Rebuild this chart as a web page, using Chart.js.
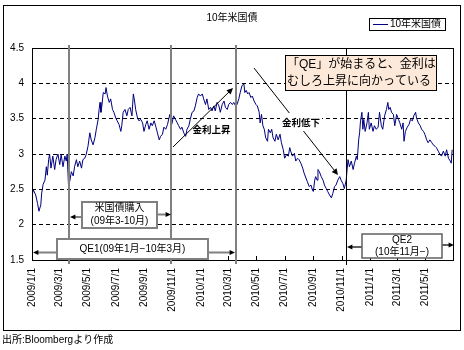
<!DOCTYPE html>
<html>
<head>
<meta charset="utf-8">
<script src="https://cdn.jsdelivr.net/npm/chart.js@4.4.0/dist/chart.umd.min.js"></script>
<style>
html, body { margin: 0; padding: 0; background: #fff; }
#wrap { width: 464px; height: 350px; }
</style>
</head>
<body>
<div id="wrap"><canvas id="chart" width="464" height="350"></canvas></div>
<script>
// observation dates as days counted from 2009/1/1
const days = [
  0, 3, 8, 12, 15, 19, 21, 24, 28, 31, 33, 36, 38, 41, 45, 49, 52, 56, 60, 63, 67, 71, 74, 76, 79,
  82, 85, 89, 92, 96, 99, 103, 107, 110, 114, 117, 121, 125, 128, 132, 136, 139, 143, 145, 147, 149,
  151, 154, 158, 160, 163, 167, 170, 174, 177, 181, 184, 188, 192, 194, 197, 201, 205, 208, 212, 216,
  219, 221, 224, 228, 231, 235, 239, 242, 246, 249, 253, 257, 260, 264, 268, 271, 275, 278, 282, 285,
  289, 293, 296, 298, 302, 306, 310, 314, 317, 321, 324, 328, 332, 335, 339, 342, 346, 350, 353, 357,
  360, 364, 368, 371, 375, 378, 382, 386, 389, 393, 396, 400, 404, 407, 411, 415, 418, 422, 425, 429,
  433, 436, 440, 443, 447, 450, 454, 458, 460, 463, 466, 469, 473, 476, 480, 484, 487, 491, 493, 496,
  499, 502, 505, 509, 511, 515, 518, 521, 525, 528, 532, 536, 539, 543, 546, 550, 554, 557, 559, 563,
  567, 570, 574, 577, 581, 585, 588, 592, 595, 599, 603, 606, 608, 611, 613, 616, 618, 621, 625, 629,
  632, 636, 639, 643, 647, 650, 654, 657, 661, 665, 668, 672, 675, 679, 681, 683, 686, 690, 694, 697,
  701, 703, 706, 708, 710, 713, 715, 717, 720, 724, 727, 729, 733, 737, 740, 744, 748, 751, 755, 758,
  762, 766, 769, 771, 774, 777, 781, 784, 788, 792, 795, 799, 802, 804, 807, 811, 815, 818, 822, 825,
  829, 831, 835, 839, 842, 846, 849, 853, 856, 860, 864, 867, 871, 874, 878, 882, 885, 889, 893, 896,
  900, 904, 906, 908
];
// 10-year US Treasury yield (%)
const yields = [
  2.42, 2.49, 2.42, 2.30, 2.19, 2.28, 2.45, 2.57, 2.63, 2.82, 2.70, 2.92, 3.00, 2.80, 2.97, 2.78, 2.92, 3.00, 2.85, 2.99, 2.82, 2.97, 2.90, 3.00, 2.54,
  2.63, 2.75, 2.69, 2.82, 2.92, 2.82, 2.90, 2.80, 2.92, 2.94, 2.99, 3.11, 3.30, 3.20, 3.13, 3.23, 3.35, 3.49, 3.63, 3.73, 3.59,
  3.68, 3.87, 3.85, 3.94, 3.82, 3.73, 3.78, 3.63, 3.59, 3.51, 3.47, 3.42, 3.32, 3.40, 3.59, 3.63, 3.54, 3.63, 3.66, 3.54,
  3.85, 3.78, 3.63, 3.51, 3.47, 3.49, 3.44, 3.32, 3.42, 3.47, 3.35, 3.44, 3.40, 3.47, 3.38, 3.30, 3.20, 3.25, 3.28, 3.38,
  3.35, 3.42, 3.51, 3.56, 3.42, 3.54, 3.49, 3.44, 3.40, 3.35, 3.38, 3.30, 3.25, 3.35, 3.40, 3.49, 3.59, 3.61, 3.68, 3.80,
  3.85, 3.82, 3.85, 3.78, 3.70, 3.78, 3.63, 3.66, 3.61, 3.68, 3.61, 3.73, 3.68, 3.59, 3.70, 3.75, 3.66, 3.63, 3.70, 3.73,
  3.70, 3.73, 3.68, 3.70, 3.78, 3.87, 3.97, 3.99, 3.87, 3.90, 3.85, 3.87, 3.80, 3.82, 3.75, 3.70, 3.68, 3.59, 3.44, 3.56,
  3.40, 3.35, 3.23, 3.18, 3.35, 3.30, 3.35, 3.23, 3.18, 3.28, 3.20, 3.28, 3.16, 3.06, 2.94, 2.99, 2.97, 3.09, 3.04, 2.97,
  3.01, 2.90, 2.94, 2.92, 2.87, 2.80, 2.73, 2.66, 2.61, 2.54, 2.56, 2.49, 2.47, 2.63, 2.68, 2.63, 2.78, 2.75, 2.68, 2.63,
  2.56, 2.51, 2.47, 2.42, 2.38, 2.44, 2.54, 2.56, 2.63, 2.68, 2.63, 2.58, 2.51, 2.63, 2.78, 2.92, 2.82, 2.90, 2.78, 2.87,
  2.97, 2.92, 3.20, 3.30, 3.47, 3.59, 3.35, 3.49, 3.32, 3.44, 3.59, 3.35, 3.44, 3.32, 3.40, 3.35, 3.38, 3.59, 3.40, 3.35,
  3.54, 3.63, 3.73, 3.63, 3.66, 3.59, 3.56, 3.40, 3.56, 3.49, 3.44, 3.35, 3.44, 3.18, 3.32, 3.38, 3.42, 3.49, 3.47, 3.54,
  3.59, 3.51, 3.44, 3.40, 3.35, 3.32, 3.28, 3.20, 3.16, 3.20, 3.16, 3.13, 3.11, 3.09, 3.04, 2.99, 2.97, 3.04, 2.97, 3.06,
  2.94, 2.90, 2.87, 3.06
];
const tickDays = [0, 59, 120, 181, 243, 304, 365, 424, 485, 546, 608, 669, 730, 789, 850];
const tickLabels = [
  '2009/1/1', '2009/3/1', '2009/5/1', '2009/7/1', '2009/9/1', '2009/11/1',
  '2010/1/1', '2010/3/1', '2010/5/1', '2010/7/1', '2010/9/1', '2010/11/1',
  '2011/1/1', '2011/3/1', '2011/5/1'
];

const FONT = '"Liberation Sans", "Noto Sans CJK JP", sans-serif';

function arrow(ctx, x1, y1, x2, y2, color, width, head) {
  const a = Math.atan2(y2 - y1, x2 - x1);
  ctx.save();
  ctx.strokeStyle = color;
  ctx.lineWidth = width;
  ctx.beginPath();
  ctx.moveTo(x1, y1);
  ctx.lineTo(x2 - Math.cos(a) * head * 0.6, y2 - Math.sin(a) * head * 0.6);
  ctx.stroke();
  ctx.fillStyle = '#000';
  ctx.beginPath();
  ctx.moveTo(x2, y2);
  ctx.lineTo(x2 - head * Math.cos(a - 0.45), y2 - head * Math.sin(a - 0.45));
  ctx.lineTo(x2 - head * Math.cos(a + 0.45), y2 - head * Math.sin(a + 0.45));
  ctx.closePath();
  ctx.fill();
  ctx.restore();
}

function box(ctx, x, y, w, h, fill, stroke, lw) {
  ctx.save();
  ctx.fillStyle = fill;
  ctx.fillRect(x, y, w, h);
  ctx.strokeStyle = stroke;
  ctx.lineWidth = lw;
  ctx.strokeRect(x, y, w, h);
  ctx.restore();
}

function text(ctx, s, x, y, size, align, weight) {
  ctx.save();
  ctx.font = (weight || 'normal') + ' ' + size + 'px ' + FONT;
  ctx.fillStyle = '#000';
  ctx.textAlign = align || 'center';
  ctx.textBaseline = 'middle';
  ctx.fillText(s, x, y);
  ctx.restore();
}

const decor = {
  id: 'decor',
  beforeDraw(chart) {
    const ctx = chart.ctx;
    ctx.save();
    ctx.fillStyle = '#fff';
    ctx.fillRect(0, 0, chart.width, chart.height);
    ctx.restore();
  },
  afterDatasetsDraw(chart) {
    const ctx = chart.ctx;
    const a = chart.chartArea;
    const xs = chart.scales.x;

    // plot frame
    ctx.save();
    ctx.strokeStyle = '#000';
    ctx.lineWidth = 1;
    ctx.strokeRect(a.left + 0.5, a.top + 0.5, a.right - a.left - 1, a.bottom - a.top);

    // inward tick marks on the date axis
    ctx.beginPath();
    tickDays.forEach(d => {
      const x = Math.round(xs.getPixelForValue(d)) + 0.5;
      ctx.moveTo(x, a.bottom);
      ctx.lineTo(x, a.bottom - 4);
    });
    ctx.stroke();

    // policy dates: treasury purchases start/end, QE1 end
    ctx.strokeStyle = '#808080';
    ctx.lineWidth = 2;
    [80, 301, 440].forEach(d => {
      const x = Math.round(xs.getPixelForValue(d));
      ctx.beginPath();
      ctx.moveTo(x, a.top - 3);
      ctx.lineTo(x, a.bottom + 4);
      ctx.stroke();
    });
    // QE2
    ctx.strokeStyle = '#000';
    ctx.lineWidth = 1;
    const xq = Math.round(xs.getPixelForValue(679)) + 0.5;
    ctx.beginPath();
    ctx.moveTo(xq, a.top);
    ctx.lineTo(xq, a.bottom + 5);
    ctx.stroke();
    ctx.restore();
  },
  afterDraw(chart) {
    const ctx = chart.ctx;

    // outer frame
    ctx.save();
    ctx.strokeStyle = '#000';
    ctx.lineWidth = 1;
    ctx.strokeRect(3.5, 5.5, 457, 325);
    ctx.restore();

    text(ctx, '10年米国債', 232, 18.5, 10);

    // legend
    box(ctx, 369.5, 18.5, 76, 12, '#fff', '#000', 1);
    ctx.save();
    ctx.strokeStyle = '#000080';
    ctx.lineWidth = 1;
    ctx.beginPath();
    ctx.moveTo(373, 24.5);
    ctx.lineTo(388, 24.5);
    ctx.stroke();
    ctx.restore();
    text(ctx, '10年米国債', 390, 24.5, 10, 'left');

    // callout
    box(ctx, 285.5, 55.5, 151, 35, '#fde9d9', '#000', 1);
    text(ctx, '「QE」が始まると、金利は', 287, 65, 12, 'left');
    text(ctx, 'むしろ上昇に向かっている', 287, 81.5, 12, 'left');

    // trend arrows
    arrow(ctx, 173, 147, 233, 88, '#000', 1, 7);
    text(ctx, '金利上昇', 211.5, 130, 9.5, 'center', 'bold');
    arrow(ctx, 254, 68, 338, 175, '#000', 1, 7);
    ctx.save();
    ctx.fillStyle = '#fff';
    ctx.fillRect(280, 113, 42, 18);
    ctx.restore();
    text(ctx, '金利低下', 301, 123, 9.5, 'center', 'bold');

    // treasury purchase period
    arrow(ctx, 82, 217, 70, 217, '#808080', 2, 6);
    arrow(ctx, 157, 214.5, 171, 214.5, '#808080', 2, 6);
    box(ctx, 82, 202, 75, 26, '#fff', '#808080', 2);
    text(ctx, '米国債購入', 119.5, 208.5, 10);
    text(ctx, '(09年3-10月)', 119.5, 221, 10);

    // QE1 period
    arrow(ctx, 57, 252.5, 33, 252.5, '#808080', 2, 6);
    arrow(ctx, 208, 252.5, 235, 252.5, '#808080', 2, 6);
    box(ctx, 57, 239, 151, 20, '#fff', '#808080', 2);
    text(ctx, 'QE1(09年1月−10年3月)', 132.5, 249.5, 10);

    // QE2 period
    arrow(ctx, 362, 247, 347, 247, '#606060', 2, 6);
    arrow(ctx, 442, 245, 454, 245, '#606060', 2, 6);
    box(ctx, 362, 234, 80, 24, '#fff', '#606060', 1.5);
    text(ctx, 'QE2', 402, 240.5, 10);
    text(ctx, '(10年11月−)', 402, 252, 10);

    text(ctx, '出所:Bloombergより作成', 2, 340, 10, 'left');
  }
};

new Chart(document.getElementById('chart'), {
  type: 'line',
  data: {
    datasets: [{
      label: '10年米国債',
      data: days.map((d, i) => ({ x: d, y: yields[i] })),
      borderColor: '#000080',
      borderWidth: 1,
      pointRadius: 0,
      tension: 0,
      fill: false
    }]
  },
  options: {
    responsive: false,
    devicePixelRatio: 1,
    animation: false,
    layout: { padding: { left: 0, right: 10, top: 48, bottom: 0 } },
    plugins: { legend: { display: false }, title: { display: false }, tooltip: { enabled: false } },
    scales: {
      x: {
        type: 'linear',
        min: 0,
        max: 912,
        afterBuildTicks: s => { s.ticks = tickDays.map(v => ({ value: v })); },
        afterFit: s => { s.height = 90; },
        ticks: {
          autoSkip: false,
          maxRotation: 90,
          minRotation: 90,
          padding: 8,
          color: '#000',
          font: { family: FONT, size: 10 },
          callback: v => tickLabels[tickDays.indexOf(v)]
        },
        grid: { display: true, drawOnChartArea: false, drawTicks: false },
        border: { display: false }
      },
      y: {
        min: 1.5,
        max: 4.5,
        afterFit: s => { s.width = 32; },
        ticks: {
          stepSize: 0.5,
          padding: 8,
          color: '#000',
          font: { family: FONT, size: 10 },
          callback: v => String(v)
        },
        grid: {
          drawTicks: false,
          color: c => (c.tick && c.tick.value > 1.5 && c.tick.value < 4.5) ? '#000' : 'rgba(0,0,0,0)',
          lineWidth: 1
        },
        border: { display: false, dash: [4, 3] }
      }
    }
  },
  plugins: [decor]
});
</script>
</body>
</html>
